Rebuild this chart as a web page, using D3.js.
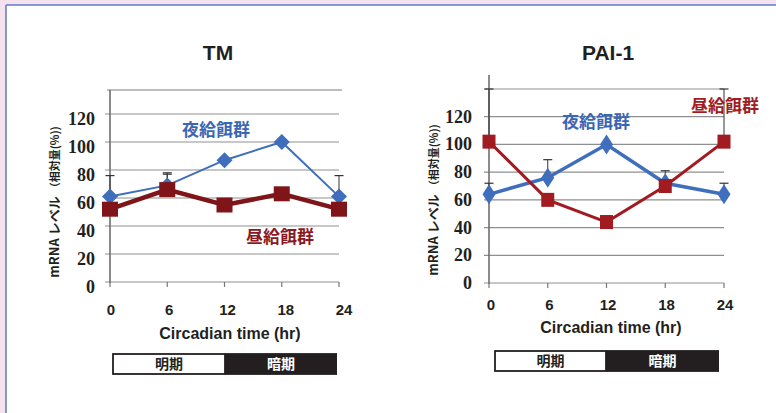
<!DOCTYPE html>
<html>
<head>
<meta charset="utf-8">
<script src="https://cdn.jsdelivr.net/npm/d3@7"></script>
<style>
body { margin: 0; background: #fff; }
svg { display: block; }
.serif { font-family: "Liberation Serif", "DejaVu Serif", serif; font-weight: bold; }
.sans { font-family: "Liberation Sans", Arial, sans-serif; font-weight: bold; }
.jp { font-family: "Noto Sans CJK JP", sans-serif; font-weight: bold; }
</style>
</head>
<body>
<script>
// data (mRNA level, % relative)
var hours = [0, 6, 12, 18, 24];
var yTicks = [0, 20, 40, 60, 80, 100, 120];
var nightName = "夜給餌群", dayName = "昼給餌群";
var periodNames = ["明期", "暗期"];

var tmNight = [61, 69, 87, 100, 61];
var tmDay = [52, 66, 55, 63, 52];
var tmNightErr = [15, 8, 0, 0, 15];
var tmDayErr = [0, 12, 0, 0, 0];

var paiNight = [64, 76, 100, 72, 64];
var paiDay = [102, 60, 44, 70, 102];
var paiNightErr = [8, 13, 0, 9, 8];
var paiDayErr = [38, 0, 0, 0, 38];

var W = 776, H = 413;
var BLUE = "#3f6ebd";

var panels = [
  { title: "TM", night: tmNight, day: tmDay, nightErr: tmNightErr, dayErr: tmDayErr,
    x0: 110, x1: 339, lx0: 111, lx1: 344, yb: 282, yt: 86, frameTop: 90, axisTop: 90, topGrid: false,
    titleX: 218, titleY: 60, tickRight: 95, tickDy: 11, xLabelY: 315, xTitleX: 230, xTitleY: 339,
    yTitleX: 53, yTitleY: 202, bar: [113, 225, 337, 354, 374],
    nightLab: [216, 136], dayLab: [280, 243], nightW: 2, dayW: 4.5, dayColor: "#7f1518",
    dayLabColor: "#8a1a1f", dia: [16, 16], sq: [16, 15] },
  { title: "PAI-1", night: paiNight, day: paiDay, nightErr: paiNightErr, dayErr: paiDayErr,
    x0: 489, x1: 724, lx0: 491, lx1: 725, yb: 283, yt: 89, frameTop: null, axisTop: 75, topGrid: true,
    titleX: 608, titleY: 60, tickRight: 472, tickDy: 6, xLabelY: 310, xTitleX: 611, xTitleY: 333,
    yTitleX: 432, yTitleY: 200, bar: [495, 606, 719, 351, 371],
    nightLab: [596, 128], dayLab: [725, 112], nightW: 3.5, dayW: 3, dayColor: "#a11b20",
    dayLabColor: "#a11c22", dia: [13, 20], sq: [13, 14] }
];

var svg = d3.select("body").append("svg")
  .attr("width", W)
  .attr("height", H);

// page frame
svg.append("rect").attr("width", W).attr("height", H).attr("fill", "#f6e2ef");
svg.append("rect").attr("x", 6).attr("y", 5).attr("width", W - 6).attr("height", H - 5).attr("fill", "#fff");
svg.append("line").attr("x1", 6).attr("y1", 5).attr("x2", W).attr("y2", 5)
  .attr("stroke", "#5b7bc4").attr("stroke-width", 1.5);
svg.append("line").attr("x1", 6).attr("y1", 5).attr("x2", 6).attr("y2", H)
  .attr("stroke", "#5b7bc4").attr("stroke-width", 1.5);

function diamond(w, h) {
  return "M0," + (-h / 2) + "L" + (w / 2) + ",0L0," + (h / 2) + "L" + (-w / 2) + ",0Z";
}

panels.forEach(function(p) {
  var x = d3.scaleLinear().domain([0, 24]).range([p.x0, p.x1]);
  var xl = d3.scaleLinear().domain([0, 24]).range([p.lx0, p.lx1]);
  var y = d3.scaleLinear().domain([0, 140]).range([p.yb, p.yt]);
  var g = svg.append("g");

  // frame top (TM only)
  if (p.frameTop != null) {
    g.append("line")
      .attr("x1", p.x0 - 3).attr("x2", p.x1 + 3)
      .attr("y1", p.frameTop).attr("y2", p.frameTop)
      .attr("stroke", "#bdbdbd").attr("stroke-width", 2);
  }

  // grid lines
  var grid = p.topGrid ? yTicks.concat([140]) : yTicks;
  g.selectAll(".grid").data(grid).enter()
    .append("line")
    .attr("x1", p.x0 - 5).attr("x2", p.x1)
    .attr("y1", function(d) { return y(d); })
    .attr("y2", function(d) { return y(d); })
    .attr("stroke", "#8f8f8f").attr("stroke-width", 1.2);

  // y axis line
  g.append("line")
    .attr("x1", p.x0).attr("x2", p.x0)
    .attr("y1", p.axisTop).attr("y2", p.yb + 1)
    .attr("stroke", "#6f6f6f").attr("stroke-width", 1.6);

  // x ticks
  g.selectAll(".xt").data(hours).enter()
    .append("line")
    .attr("x1", function(d) { return x(d); })
    .attr("x2", function(d) { return x(d); })
    .attr("y1", p.yb).attr("y2", p.yb + 5)
    .attr("stroke", "#777").attr("stroke-width", 1.2);

  // y tick labels
  g.selectAll(".yl").data(yTicks).enter()
    .append("text")
    .attr("class", "serif")
    .attr("x", p.tickRight)
    .attr("y", function(d) { return y(d) + p.tickDy; })
    .attr("text-anchor", "end")
    .attr("font-size", 18)
    .attr("fill", "#231f20")
    .text(function(d) { return d; });

  // x tick labels
  g.selectAll(".xl").data(hours).enter()
    .append("text")
    .attr("class", "sans")
    .attr("x", function(d) { return xl(d); })
    .attr("y", p.xLabelY)
    .attr("text-anchor", "middle")
    .attr("font-size", 15)
    .attr("fill", "#231f20")
    .text(function(d) { return d; });

  // titles
  g.append("text")
    .attr("class", "sans")
    .attr("x", p.titleX).attr("y", p.titleY)
    .attr("text-anchor", "middle")
    .attr("font-size", 21)
    .attr("fill", "#231f20")
    .text(p.title);

  g.append("text")
    .attr("class", "sans")
    .attr("x", p.xTitleX).attr("y", p.xTitleY)
    .attr("text-anchor", "middle")
    .attr("font-size", 16)
    .attr("fill", "#231f20")
    .text("Circadian time (hr)");

  var yt = g.append("text")
    .attr("class", "jp")
    .attr("transform", "translate(" + p.yTitleX + "," + p.yTitleY + ") rotate(-90)")
    .attr("text-anchor", "middle")
    .attr("dy", "0.35em")
    .attr("fill", "#231f20");
  yt.append("tspan").attr("font-size", 13).text("mRNA レベル ");
  yt.append("tspan").attr("font-size", 11).text("（相対量(%))");

  // error bars (upper only)
  function errBars(vals, errs, cls) {
    var d = hours.map(function(h, i) { return { h: h, v: vals[i], e: errs[i] }; })
      .filter(function(o) { return o.e > 0; });
    g.selectAll("." + cls + "v").data(d).enter()
      .append("line")
      .attr("x1", function(o) { return x(o.h); })
      .attr("x2", function(o) { return x(o.h); })
      .attr("y1", function(o) { return y(o.v); })
      .attr("y2", function(o) { return y(o.v + o.e); })
      .attr("stroke", "#333").attr("stroke-width", 1);
    g.selectAll("." + cls + "c").data(d).enter()
      .append("line")
      .attr("x1", function(o) { return x(o.h) - 4.5; })
      .attr("x2", function(o) { return x(o.h) + 4.5; })
      .attr("y1", function(o) { return y(o.v + o.e); })
      .attr("y2", function(o) { return y(o.v + o.e); })
      .attr("stroke", "#333").attr("stroke-width", 1.2);
  }
  errBars(p.night, p.nightErr, "en");
  errBars(p.day, p.dayErr, "ed");

  var line = d3.line()
    .x(function(d, i) { return x(hours[i]); })
    .y(function(d) { return y(d); });

  // night-feeding series
  g.append("path").datum(p.night)
    .attr("d", line)
    .attr("fill", "none")
    .attr("stroke", BLUE)
    .attr("stroke-width", p.nightW);
  g.selectAll(".dn").data(p.night).enter()
    .append("path")
    .attr("transform", function(d, i) { return "translate(" + x(hours[i]) + "," + y(d) + ")"; })
    .attr("d", diamond(p.dia[0], p.dia[1]))
    .attr("fill", BLUE);

  // day-feeding series
  g.append("path").datum(p.day)
    .attr("d", line)
    .attr("fill", "none")
    .attr("stroke", p.dayColor)
    .attr("stroke-width", p.dayW);
  g.selectAll(".sd").data(p.day).enter()
    .append("rect")
    .attr("x", function(d, i) { return x(hours[i]) - p.sq[0] / 2; })
    .attr("y", function(d) { return y(d) - p.sq[1] / 2; })
    .attr("width", p.sq[0])
    .attr("height", p.sq[1])
    .attr("fill", p.dayColor);

  // group labels
  g.append("text")
    .attr("class", "jp")
    .attr("x", p.nightLab[0]).attr("y", p.nightLab[1])
    .attr("text-anchor", "middle")
    .attr("font-size", 17)
    .attr("fill", "#3a66b5")
    .text(nightName);
  g.append("text")
    .attr("class", "jp")
    .attr("x", p.dayLab[0]).attr("y", p.dayLab[1])
    .attr("text-anchor", "middle")
    .attr("font-size", 17)
    .attr("fill", p.dayLabColor)
    .text(dayName);

  // light / dark period bar
  var b = p.bar;
  g.append("rect")
    .attr("x", b[0]).attr("y", b[3])
    .attr("width", b[1] - b[0]).attr("height", b[4] - b[3])
    .attr("fill", "#fff").attr("stroke", "#231f20").attr("stroke-width", 1.8);
  g.append("rect")
    .attr("x", b[1]).attr("y", b[3] - 0.9)
    .attr("width", b[2] - b[1]).attr("height", b[4] - b[3] + 1.8)
    .attr("fill", "#231f20");
  g.selectAll(".pn").data(periodNames).enter()
    .append("text")
    .attr("class", "jp")
    .attr("x", function(d, i) { return i == 0 ? (b[0] + b[1]) / 2 : (b[1] + b[2]) / 2; })
    .attr("y", (b[3] + b[4]) / 2)
    .attr("dy", "0.36em")
    .attr("text-anchor", "middle")
    .attr("font-size", 14)
    .attr("fill", function(d, i) { return i == 0 ? "#231f20" : "#fff"; })
    .text(function(d) { return d; });
});
</script>
</body>
</html>
